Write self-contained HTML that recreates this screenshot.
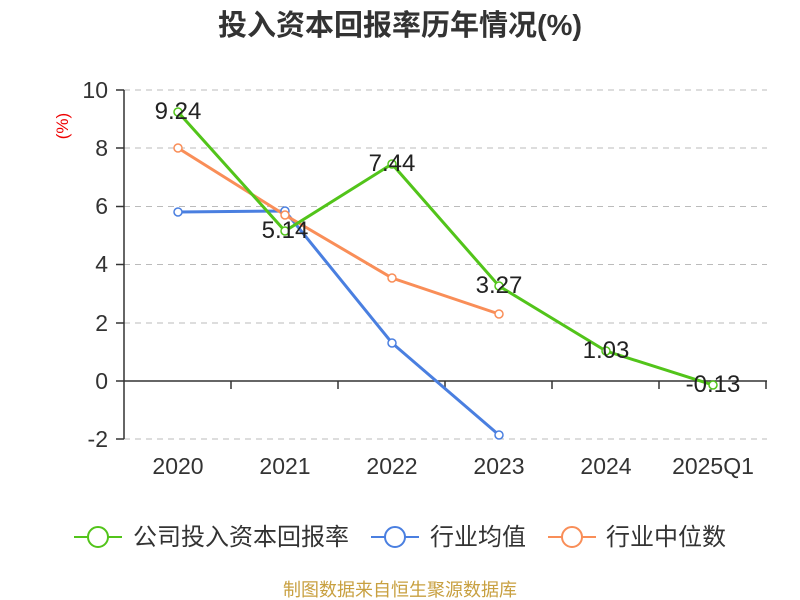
<!DOCTYPE html>
<html><head><meta charset="utf-8"><style>
body{margin:0;background:#fff;}
svg{display:block;font-family:"Liberation Sans","Noto Sans CJK SC",sans-serif;}
</style></head><body>
<svg width="800" height="600" viewBox="0 0 800 600">
<text x="400" y="35" text-anchor="middle" font-size="29" font-weight="bold" fill="#333">投入资本回报率历年情况(%)</text>
<text x="68" y="126" font-size="17" fill="#e00" text-anchor="middle" transform="rotate(-90 68 126)">(%)</text>
<g stroke="#bbb" stroke-dasharray="6,5" stroke-width="1">
<line x1="124" y1="90" x2="767" y2="90"/><line x1="124" y1="148" x2="767" y2="148"/>
<line x1="124" y1="206.5" x2="767" y2="206.5"/><line x1="124" y1="264.5" x2="767" y2="264.5"/>
<line x1="124" y1="323" x2="767" y2="323"/><line x1="124" y1="439" x2="767" y2="439"/>
</g>
<g stroke="#333" stroke-width="1.5">
<line x1="124" y1="90" x2="124" y2="439"/>
<line x1="124" y1="381" x2="767" y2="381"/>
<line x1="116" y1="90" x2="124" y2="90"/><line x1="116" y1="148" x2="124" y2="148"/><line x1="116" y1="206.5" x2="124" y2="206.5"/><line x1="116" y1="264.5" x2="124" y2="264.5"/><line x1="116" y1="323" x2="124" y2="323"/><line x1="116" y1="381" x2="124" y2="381"/><line x1="116" y1="439" x2="124" y2="439"/>
<line x1="231" y1="381" x2="231" y2="389"/><line x1="338" y1="381" x2="338" y2="389"/><line x1="445" y1="381" x2="445" y2="389"/><line x1="552" y1="381" x2="552" y2="389"/><line x1="659" y1="381" x2="659" y2="389"/><line x1="766" y1="381" x2="766" y2="389"/>
</g>
<g font-size="23" fill="#333" text-anchor="end">
<text x="108" y="98">10</text><text x="108" y="156">8</text><text x="108" y="214">6</text><text x="108" y="272">4</text><text x="108" y="331">2</text><text x="108" y="389">0</text><text x="108" y="447">-2</text>
</g>
<g font-size="23" fill="#333" text-anchor="middle">
<text x="178" y="474">2020</text><text x="285" y="474">2021</text><text x="392" y="474">2022</text><text x="499" y="474">2023</text><text x="606" y="474">2024</text><text x="713" y="474">2025Q1</text>
</g>
<g fill="none" stroke-width="3">
<polyline stroke="#4a7fe0" points="178,212 285,211 392,343 499,435"/>
<polyline stroke="#f98e58" points="178,148 285,215 392,278 499,314"/>
<polyline stroke="#52c41a" points="178,112 285,231 392,164 499,286 606,351 713,385"/>
</g>
<g fill="#fff" stroke-width="1.5">
<g stroke="#4a7fe0"><circle cx="178" cy="212" r="4"/><circle cx="285" cy="211" r="4"/><circle cx="392" cy="343" r="4"/><circle cx="499" cy="435" r="4"/></g>
<g stroke="#f98e58"><circle cx="178" cy="148" r="4"/><circle cx="285" cy="215" r="4"/><circle cx="392" cy="278" r="4"/><circle cx="499" cy="314" r="4"/></g>
<g stroke="#52c41a"><circle cx="178" cy="112" r="4"/><circle cx="285" cy="231" r="4"/><circle cx="392" cy="164" r="4"/><circle cx="499" cy="286" r="4"/><circle cx="606" cy="351" r="4"/><circle cx="713" cy="385" r="4"/></g>
</g>
<g font-size="24" fill="#222" text-anchor="middle">
<text x="178" y="119">9.24</text><text x="285" y="238">5.14</text><text x="392" y="171">7.44</text><text x="499" y="293">3.27</text><text x="606" y="358">1.03</text><text x="713" y="392">-0.13</text>
</g>
<g stroke-width="2" fill="#fff">
<line x1="74" y1="537" x2="122" y2="537" stroke="#52c41a"/><circle cx="98" cy="537" r="10" stroke="#52c41a"/>
<line x1="371" y1="537" x2="419" y2="537" stroke="#4a7fe0"/><circle cx="395" cy="537" r="10" stroke="#4a7fe0"/>
<line x1="548" y1="537" x2="596" y2="537" stroke="#f98e58"/><circle cx="572" cy="537" r="10" stroke="#f98e58"/>
</g>
<g font-size="24" fill="#333">
<text x="133" y="545">公司投入资本回报率</text><text x="430" y="545">行业均值</text><text x="606" y="545">行业中位数</text>
</g>
<text x="400" y="596" text-anchor="middle" font-size="18" fill="#c8a040">制图数据来自恒生聚源数据库</text>
</svg>
</body></html>
